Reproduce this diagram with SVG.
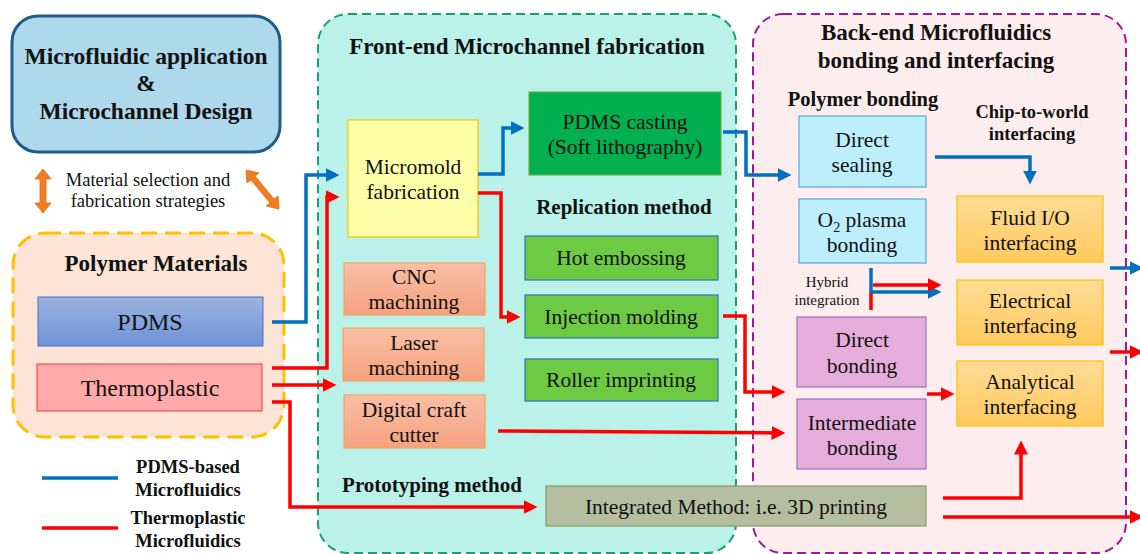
<svg xmlns="http://www.w3.org/2000/svg" width="1140" height="554" viewBox="0 0 1140 554" font-family="'Liberation Serif', 'Times New Roman', serif">
<defs>
<marker id="ab" markerWidth="4" markerHeight="4" refX="3" refY="2" orient="auto" markerUnits="strokeWidth"><path d="M0,0 L4,2 L0,4 Z" fill="#0070C0"/></marker>
<marker id="ar" markerWidth="4" markerHeight="4" refX="3" refY="2" orient="auto" markerUnits="strokeWidth"><path d="M0,0 L4,2 L0,4 Z" fill="#FF0000"/></marker>
<linearGradient id="gPdms" x1="0" y1="0" x2="0" y2="1"><stop offset="0" stop-color="#9DB3E0"/><stop offset="1" stop-color="#6E93D6"/></linearGradient>
<linearGradient id="gCnc" x1="0" y1="0" x2="0" y2="1"><stop offset="0" stop-color="#F9BFA6"/><stop offset="1" stop-color="#F5A27E"/></linearGradient>
<linearGradient id="gIf" x1="0" y1="0" x2="0" y2="1"><stop offset="0" stop-color="#FFDC95"/><stop offset="1" stop-color="#FFCA5E"/></linearGradient>
</defs>
<style>
text{font-family:"Liberation Serif","Times New Roman",serif;fill:#111;text-anchor:middle;font-size:21.5px}
.b{font-weight:bold}
.cb{stroke:#0070C0;stroke-width:3.5;fill:none}
.cr{stroke:#FF0000;stroke-width:3.5;fill:none}
</style>

<g id="design">
<rect x="12" y="16" width="268" height="136" rx="26" fill="#AED8EB" stroke="#1F5C8A" stroke-width="3"/>
<text class="b" x="146" y="64" style="font-size:23.5px">Microfluidic application</text>
<text class="b" x="146" y="91" style="font-size:23.5px">&amp;</text>
<text class="b" x="146" y="119" style="font-size:23.5px">Microchannel Design</text>
</g>

<g id="strategy">
<path d="M43,169 L51,179 L46,179 L46,203 L51,203 L43,213 L35,203 L40,203 L40,179 L35,179 Z" fill="#F07F24" stroke="#E06C10" stroke-width="0.8"/>
<path d="M246,170 L259,173 L255,176 L274,199 L278,196 L279,209 L266,206 L270,203 L251,180 L247,183 Z" fill="#F07F24" stroke="#E06C10" stroke-width="0.8"/>
<text x="148" y="186" style="font-size:18.5px">Material selection and</text>
<text x="148" y="207" style="font-size:18.5px">fabrication strategies</text>
</g>

<g id="polymer-materials">
<rect x="13" y="233" width="271" height="204" rx="32" fill="#FCE4D6" stroke="#FFC000" stroke-width="3" stroke-dasharray="16,8"/>
<text class="b" x="156" y="271" style="font-size:23px">Polymer Materials</text>
</g>
<g id="pdms">
<rect x="38" y="297" width="225" height="49" fill="url(#gPdms)" stroke="#4472C4" stroke-width="1"/>
<text x="150" y="330" style="font-size:24px">PDMS</text>
</g>
<g id="thermoplastic">
<rect x="37" y="364" width="225" height="47" fill="#FFAAAA" stroke="#FF3333" stroke-width="1"/>
<text x="150" y="396" style="font-size:24px">Thermoplastic</text>
</g>

<g id="legend">
<line x1="42" y1="478" x2="118" y2="478" stroke="#0070C0" stroke-width="3.5"/>
<text class="b" x="188" y="473" style="font-size:18.5px">PDMS-based</text>
<text class="b" x="188" y="496" style="font-size:18.5px">Microfluidics</text>
<line x1="42" y1="528" x2="118" y2="528" stroke="#FF0000" stroke-width="3.5"/>
<text class="b" x="188" y="524" style="font-size:18.5px">Thermoplastic</text>
<text class="b" x="188" y="547" style="font-size:18.5px">Microfluidics</text>
</g>

<g id="front-end">
<rect x="318" y="14" width="418" height="539" rx="30" fill="#BAF2E9" stroke="#1A9E72" stroke-width="2" stroke-dasharray="9,5"/>
<text class="b" x="527" y="54" style="font-size:23px">Front-end Microchannel fabrication</text>
<text class="b" x="624" y="214" style="font-size:21px">Replication method</text>
<text class="b" x="432" y="492" style="font-size:21px">Prototyping method</text>
</g>
<g id="micromold">
<rect x="348" y="120" width="130" height="117" fill="#FFFFAA" stroke="#FFC000" stroke-width="1.2"/>
<text x="413" y="174">Micromold</text>
<text x="413" y="199">fabrication</text>
</g>
<g id="pdms-casting">
<rect x="529" y="92" width="192" height="83" fill="#00B04F" stroke="#70AD47" stroke-width="1.2"/>
<text x="625" y="129">PDMS casting</text>
<text x="625" y="154">(Soft lithography)</text>
</g>
<g id="hot-embossing">
<rect x="525" y="236" width="193" height="44" fill="#6CCB42" stroke="#2E75B6" stroke-width="1.2"/>
<text x="621" y="265">Hot embossing</text>
</g>
<g id="injection-molding">
<rect x="525" y="295" width="193" height="43" fill="#6CCB42" stroke="#2E75B6" stroke-width="1.2"/>
<text x="621" y="324">Injection molding</text>
</g>
<g id="roller-imprinting">
<rect x="525" y="359" width="193" height="42" fill="#6CCB42" stroke="#2E75B6" stroke-width="1.2"/>
<text x="621" y="387">Roller imprinting</text>
</g>
<g id="cnc">
<rect x="344" y="263" width="141" height="52" fill="url(#gCnc)" stroke="#F4A460" stroke-width="1.2"/>
<text x="414" y="284">CNC</text>
<text x="414" y="309">machining</text>
</g>
<g id="laser">
<rect x="343" y="328" width="141" height="53" fill="url(#gCnc)" stroke="#F4A460" stroke-width="1.2"/>
<text x="414" y="350">Laser</text>
<text x="414" y="375">machining</text>
</g>
<g id="craft-cutter">
<rect x="344" y="395" width="141" height="53" fill="url(#gCnc)" stroke="#F4A460" stroke-width="1.2"/>
<text x="414" y="417">Digital craft</text>
<text x="414" y="442">cutter</text>
</g>

<g id="back-end">
<rect x="753" y="14" width="373" height="539" rx="30" fill="#FDEDEE" stroke="#A0189A" stroke-width="2" stroke-dasharray="9,5"/>
<text class="b" x="936" y="40" style="font-size:23px">Back-end Microfluidics</text>
<text class="b" x="936" y="68" style="font-size:23px">bonding and interfacing</text>
<text class="b" x="863" y="106" style="font-size:20.5px">Polymer bonding</text>
<text class="b" x="1032" y="118" style="font-size:18.5px">Chip-to-world</text>
<text class="b" x="1032" y="140" style="font-size:18.5px">interfacing</text>
<text x="827" y="287" style="font-size:15px">Hybrid</text>
<text x="827" y="305" style="font-size:15px">integration</text>
</g>
<g id="direct-sealing">
<rect x="799" y="116" width="127" height="71" fill="#BDEEFB" stroke="#5BA3DD" stroke-width="1.2"/>
<text x="862" y="147">Direct</text>
<text x="862" y="172">sealing</text>
</g>
<g id="o2-plasma">
<rect x="799" y="199" width="127" height="64" fill="#BDEEFB" stroke="#5BA3DD" stroke-width="1.2"/>
<text x="862" y="227">O<tspan style="font-size:14px" dy="5">2</tspan><tspan dy="-5"> plasma</tspan></text>
<text x="862" y="252">bonding</text>
</g>
<g id="direct-bonding">
<rect x="797" y="317" width="129" height="70" fill="#E5ADD9" stroke="#9A6FC0" stroke-width="1.2"/>
<text x="862" y="347">Direct</text>
<text x="862" y="373">bonding</text>
</g>
<g id="intermediate-bonding">
<rect x="797" y="399" width="129" height="70" fill="#E5ADD9" stroke="#9A6FC0" stroke-width="1.2"/>
<text x="862" y="430">Intermediate</text>
<text x="862" y="455">bonding</text>
</g>
<g id="fluid-io">
<rect x="957" y="196" width="146" height="66" fill="url(#gIf)" stroke="#FFC000" stroke-width="1.2"/>
<text x="1030" y="225">Fluid I/O</text>
<text x="1030" y="250">interfacing</text>
</g>
<g id="electrical">
<rect x="957" y="280" width="146" height="65" fill="url(#gIf)" stroke="#FFC000" stroke-width="1.2"/>
<text x="1030" y="308">Electrical</text>
<text x="1030" y="333">interfacing</text>
</g>
<g id="analytical">
<rect x="957" y="361" width="146" height="65" fill="url(#gIf)" stroke="#FFC000" stroke-width="1.2"/>
<text x="1030" y="389">Analytical</text>
<text x="1030" y="414">interfacing</text>
</g>
<g id="integrated">
<rect x="546" y="486" width="380" height="40" fill="#B5BEA0" stroke="#8A9A6A" stroke-width="1.2"/>
<text x="736" y="514">Integrated Method: i.e. 3D printing</text>
</g>

<g id="connectors">
<path class="cb" d="M272,322 H306 V175 H336" marker-end="url(#ab)"/>
<path class="cb" d="M478,174 H503 V128 H521" marker-end="url(#ab)"/>
<path class="cb" d="M723,132 H746 V175 H788" marker-end="url(#ab)"/>
<path class="cb" d="M935,157 H1030 V181" marker-end="url(#ab)"/>
<path class="cb" d="M871,268 V293"/>
<path class="cb" d="M871,292 H938" marker-end="url(#ab)"/>
<path class="cr" d="M871,293 V310"/>
<path class="cr" d="M873,285 H938" marker-end="url(#ar)"/>
<path class="cb" d="M1110,268 H1140" marker-end="url(#ab)"/>

<path class="cr" d="M272,368 H327 V197 H336" marker-end="url(#ar)"/>
<path class="cr" d="M272,385 H333" marker-end="url(#ar)"/>
<path class="cr" d="M272,402 H290 V507 H534" marker-end="url(#ar)"/>
<path class="cr" d="M478,193 H501 V317 H517" marker-end="url(#ar)"/>
<path class="cr" d="M723,316 H745 V392 H782" marker-end="url(#ar)"/>
<path class="cr" d="M498,431 L782,433" marker-end="url(#ar)"/>
<path class="cr" d="M927,394 H951" marker-end="url(#ar)"/>
<path class="cr" d="M943,498 H1021 V444" marker-end="url(#ar)"/>
<path class="cr" d="M943,517 H1140" marker-end="url(#ar)"/>
<path class="cr" d="M1110,352 H1140" marker-end="url(#ar)"/>
</g>
</svg>
